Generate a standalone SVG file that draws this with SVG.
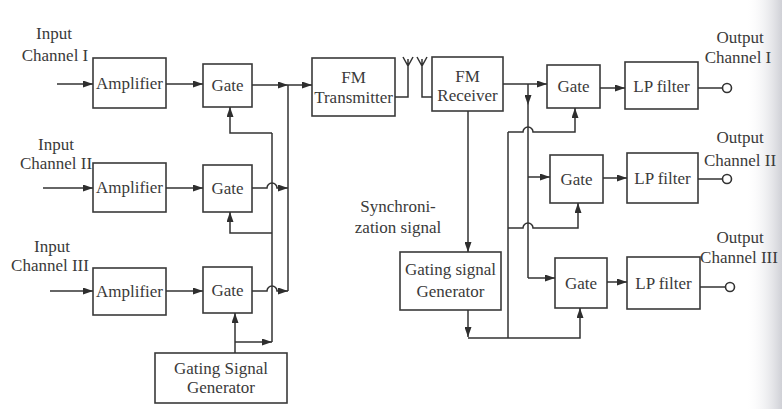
<svg xmlns="http://www.w3.org/2000/svg" width="782" height="409" viewBox="0 0 782 409">
<defs>
<linearGradient id="edge" x1="0" y1="0" x2="1" y2="0">
<stop offset="0" stop-color="#ffffff" stop-opacity="0"/>
<stop offset="1" stop-color="#cfd0d6"/>
</linearGradient>
<marker id="ah" markerUnits="userSpaceOnUse" markerWidth="10" markerHeight="7" refX="10" refY="3.5" orient="auto">
<path d="M0,0 L10,3.5 L0,7 z" fill="#2e2e2e"/>
</marker>
<style>
.box{fill:#ffffff;stroke:#3a3a3a;stroke-width:1.6}
.t{font-family:"Liberation Serif","Times New Roman",serif;font-size:17px;fill:#3a3a3a;text-anchor:middle}
.c{fill:none;stroke:#333333;stroke-width:1.5}
.a{marker-end:url(#ah)}
</style>
</defs>
<rect x="0" y="0" width="782" height="409" fill="#ffffff"/>
<rect x="745" y="0" width="37" height="409" fill="url(#edge)"/>

<g id="labels">
<text class="t" x="54" y="39">Input</text>
<text class="t" x="55" y="61">Channel I</text>
<text class="t" x="56" y="150">Input</text>
<text class="t" x="56" y="169">Channel II</text>
<text class="t" x="52" y="252">Input</text>
<text class="t" x="50" y="271">Channel III</text>
<text class="t" x="398" y="212">Synchroni-</text>
<text class="t" x="398" y="233">zation signal</text>
<text class="t" x="740" y="43">Output</text>
<text class="t" x="738" y="63">Channel I</text>
<text class="t" x="740" y="143">Output</text>
<text class="t" x="740" y="166">Channel II</text>
<text class="t" x="740" y="243">Output</text>
<text class="t" x="739" y="263">Channel III</text>
</g>

<g id="amp1"><rect class="box" x="93" y="58" width="73" height="50"/><text class="t" x="129.5" y="89">Amplifier</text></g>
<g id="amp2"><rect class="box" x="93" y="163" width="73" height="49"/><text class="t" x="129.5" y="193">Amplifier</text></g>
<g id="amp3"><rect class="box" x="93" y="268" width="73" height="47"/><text class="t" x="129.5" y="297">Amplifier</text></g>
<g id="gate1"><rect class="box" x="203" y="64" width="49" height="43"/><text class="t" x="227.5" y="91">Gate</text></g>
<g id="gate2"><rect class="box" x="203" y="165" width="49" height="47"/><text class="t" x="227.5" y="194">Gate</text></g>
<g id="gate3"><rect class="box" x="203" y="267" width="49" height="46"/><text class="t" x="227.5" y="296">Gate</text></g>
<g id="gen-left"><rect class="box" x="155" y="353" width="132" height="50"/><text class="t" x="221" y="374">Gating Signal</text><text class="t" x="221" y="393">Generator</text></g>
<g id="fm-tx"><rect class="box" x="312" y="58" width="83" height="58"/><text class="t" x="353.5" y="83">FM</text><text class="t" x="353.5" y="103">Transmitter</text></g>
<g id="fm-rx"><rect class="box" x="432" y="57" width="71" height="54"/><text class="t" x="467.5" y="82">FM</text><text class="t" x="467.5" y="101">Receiver</text></g>
<g id="gen-right"><rect class="box" x="400" y="252" width="101" height="58"/><text class="t" x="450.5" y="275">Gating signal</text><text class="t" x="450.5" y="297">Generator</text></g>
<g id="gate-r1"><rect class="box" x="547" y="65" width="53" height="43"/><text class="t" x="573.5" y="92">Gate</text></g>
<g id="gate-r2"><rect class="box" x="550" y="155" width="53" height="48"/><text class="t" x="576.5" y="185">Gate</text></g>
<g id="gate-r3"><rect class="box" x="555" y="258" width="52" height="50"/><text class="t" x="581" y="289">Gate</text></g>
<g id="lp1"><rect class="box" x="625" y="62" width="73" height="47"/><text class="t" x="661.5" y="92">LP filter</text></g>
<g id="lp2"><rect class="box" x="627" y="153" width="71" height="50"/><text class="t" x="662.5" y="184">LP filter</text></g>
<g id="lp3"><rect class="box" x="627" y="257" width="73" height="52"/><text class="t" x="663.5" y="289">LP filter</text></g>

<g id="connectors">
<!-- inputs -->
<path class="c a" d="M57,84 H93"/>
<path class="c a" d="M43,188 H93"/>
<path class="c a" d="M50,291 H93"/>
<path class="c a" d="M166,84 H203"/>
<path class="c a" d="M166,188 H203"/>
<path class="c a" d="M166,291 H203"/>
<!-- gate outputs to combining bus -->
<path class="c a" d="M252,85 H288"/>
<path class="c a" d="M288,85 H312"/>
<path class="c a" d="M252,188 H267 a5,5 0 0 1 10,0 H288"/>
<path class="c a" d="M252,291 H267 a5,5 0 0 1 10,0 H288"/>
<path class="c" d="M288,85 V291"/>
<!-- left gating distribution -->
<path class="c" d="M272,133 V342"/>
<path class="c a" d="M272,133 H230 V107"/>
<path class="c a" d="M272,233 H230 V212"/>
<path class="c a" d="M235,353 V313"/>
<path class="c a" d="M235,342 H272"/>
<!-- antennas -->
<path class="c" d="M395,97 H408 V59 M403,57 L408,66 L413,57"/>
<path class="c" d="M432,97 H422 V59 M417,57 L422,66 L427,57"/>
<!-- receiver outputs -->
<path class="c a" d="M503,84 H547"/>
<path class="c a" d="M528,84 V105"/>
<path class="c" d="M528,105 V278"/>
<path class="c a" d="M528,177 H550"/>
<path class="c a" d="M528,278 H555"/>
<path class="c a" d="M468,111 V252"/>
<path class="c a" d="M468,310 V337"/>
<!-- right gating distribution -->
<path class="c" d="M508,132 V338"/>
<path class="c a" d="M508,132 H523 a5,5 0 0 1 10,0 H575 V108"/>
<path class="c a" d="M508,228 H523 a5,5 0 0 1 10,0 H578 V203"/>
<path class="c a" d="M468,338 H580 V308"/>
<!-- filters and outputs -->
<path class="c a" d="M600,88 H625"/>
<path class="c a" d="M603,178 H627"/>
<path class="c a" d="M607,282 H627"/>
<path class="c" d="M698,88 H722"/>
<path class="c" d="M698,179 H722"/>
<path class="c" d="M700,287 H725"/>
<circle cx="727" cy="88" r="4.5" fill="#ffffff" stroke="#333333" stroke-width="1.6"/>
<circle cx="727" cy="179" r="4.5" fill="#ffffff" stroke="#333333" stroke-width="1.6"/>
<circle cx="730" cy="287" r="4.5" fill="#ffffff" stroke="#333333" stroke-width="1.6"/>
</g>
</svg>
